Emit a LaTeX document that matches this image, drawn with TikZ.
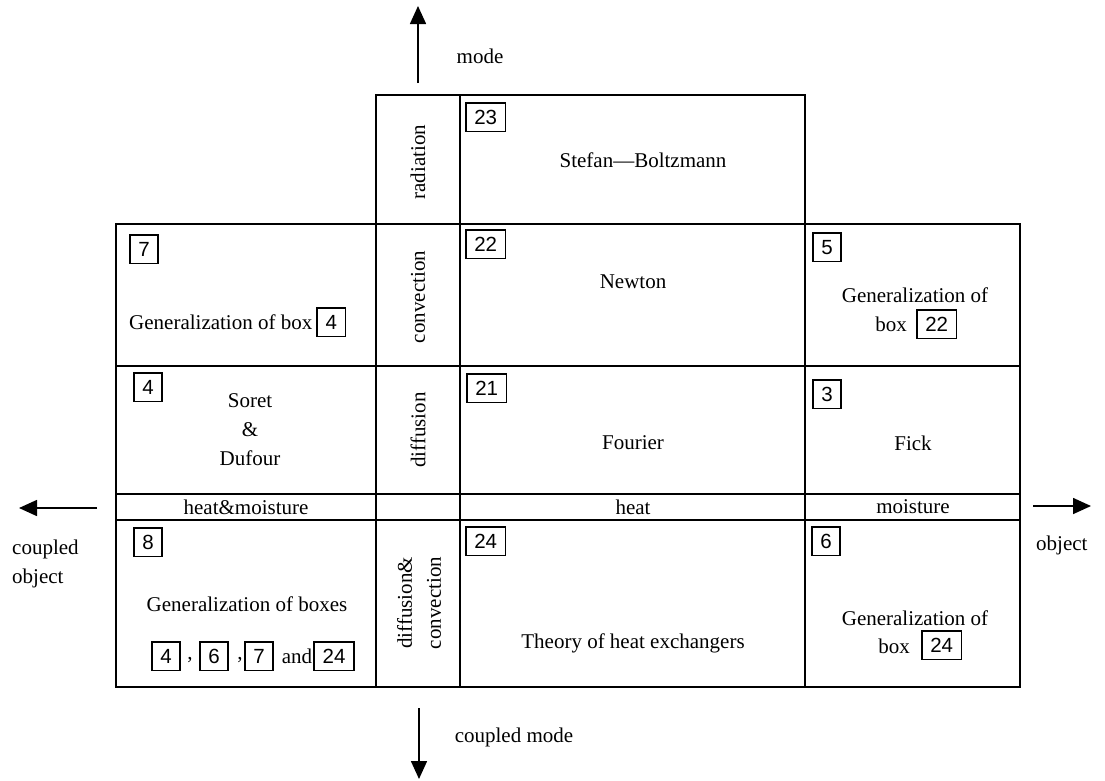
\documentclass[tikz,border=0pt]{standalone}
\usepackage{fontspec}
\setmainfont{Liberation Serif}
\setsansfont{Liberation Sans}
\usetikzlibrary{arrows.meta}
\begin{document}
\begin{tikzpicture}[x=1pt,y=-1pt,
  grid/.style={line width=1.6pt},
  txt/.style={font=\fontsize{21}{29}\selectfont, inner sep=0pt, align=center},
  vtxt/.style={txt, rotate=90},
  numbox/.style={draw, line width=1.5pt, font=\sffamily\fontsize{20.5}{24}\selectfont,
     minimum height=28.5pt, inner xsep=8.5pt, inner ysep=0pt, text height=14.8pt, text depth=0pt},
  arr/.style={line width=1.6pt, -{Triangle[length=18pt,width=16pt]}}
]
\useasboundingbox (0,0) rectangle (1105,780);
% grid
\draw[grid] (376,95) rectangle (805,224);
\draw[grid] (116,224) rectangle (1020,687);
\draw[grid] (376,224) -- (376,687);
\draw[grid] (460,95) -- (460,687);
\draw[grid] (805,224) -- (805,687);
\draw[grid] (116,366) -- (1020,366);
\draw[grid] (116,494) -- (1020,494);
\draw[grid] (116,520) -- (1020,520);

% mode labels (rotated)
\node[vtxt] (rad) at (418,162) {radiation};
\node[vtxt] (conv) at (418,297) {convection};
\node[vtxt] (diff) at (418,430) {diffusion};
\node[vtxt] (dc) at (419,603) {diffusion\&\\convection};

% object labels
\node[txt] (hm) at (246,507) {heat\&moisture};
\node[txt] (heat) at (633,507) {heat};
\node[txt] (moist) at (913,507) {moisture};

% cell 23
\node[numbox, anchor=north west] (n23) at (465,102) {23};
\node[txt] (sb) at (643,160) {Stefan---Boltzmann};

% cell 7
\node[numbox, anchor=north west] (n7) at (129,234) {7};
\node[txt, anchor=west] (g7) at (129,322) {Generalization of box};
\node[numbox, anchor=west] (n7b) at ([xshift=4pt]g7.east) {4};

% cell 22
\node[numbox, anchor=north west] (n22) at (465,229) {22};
\node[txt] (newton) at (633,282) {Newton};

% cell 5
\node[numbox, anchor=north west] (n5) at (812,232) {5};
\node[txt] (g5) at (915,295) {Generalization of};
\node[txt, anchor=east] (b5) at (907,324) {box};
\node[numbox, anchor=west] (n5b) at (916,324) {22};

% cell 4
\node[numbox, anchor=north west] (n4) at (133,372) {4};
\node[txt] (soret) at (250,430) {Soret\\\&\\Dufour};

% cell 21
\node[numbox, anchor=north west] (n21) at (466,373) {21};
\node[txt] (fourier) at (633,443) {Fourier};

% cell 3
\node[numbox, anchor=north west] (n3) at (812,379) {3};
\node[txt] (fick) at (913,443) {Fick};

% cell 8
\node[numbox, anchor=north west] (n8) at (133,527) {8};
\node[txt] (g8) at (247,604) {Generalization of boxes};
\node[numbox] (b8a) at (166,656) {4};
\node[txt] (c1) at (190,660) {,};
\node[numbox] (b8b) at (214,656) {6};
\node[txt] (c2) at (240,660) {,};
\node[numbox] (b8c) at (259,656) {7};
\node[txt] (and) at (297,656) {and};
\node[numbox] (b8d) at (334,656) {24};

% cell 24
\node[numbox, anchor=north west] (n24) at (465,526) {24};
\node[txt] (theory) at (633,643) {Theory of heat exchangers};

% cell 6
\node[numbox, anchor=north west] (n6) at (811,526) {6};
\node[txt] (g6) at (915,618) {Generalization of};
\node[txt, anchor=east] (b6) at (910,646) {box};
\node[numbox, anchor=west] (n6b) at (921,645) {24};

% axes arrows
\coordinate (upS) at (418,83);
\coordinate (upE) at (418,6);
\coordinate (dnS) at (419,708);
\coordinate (dnE) at (419,779);
\coordinate (lfS) at (97,508);
\coordinate (lfE) at (19,508);
\coordinate (rtS) at (1033,506);
\coordinate (rtE) at (1091,506);
\draw[arr] (upS) -- (upE);
\draw[arr] (dnS) -- (dnE);
\draw[arr] (lfS) -- (lfE);
\draw[arr] (rtS) -- (rtE);

\node[txt] (mode) at (480,56) {mode};
\node[txt] (cmode) at (514,737) {coupled mode};
\node[txt, align=left, anchor=west] (cobj) at (12,564) {coupled\\object};
\node[txt, anchor=west] (obj) at (1036,545) {object};
\end{tikzpicture}
\end{document}
